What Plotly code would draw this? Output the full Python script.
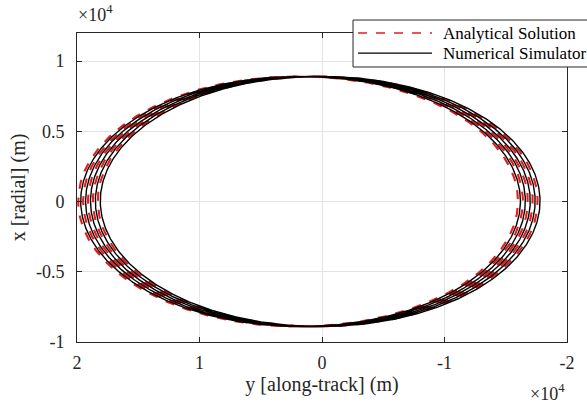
import numpy as np
import plotly.graph_objects as go

# ---- data (units: m) ----
# relative-orbit loops: radial amplitude, along-track amplitude, centre offset and drift per revolution
radial_amp = 8900.0
along_amp = 17850.0
n_revs = 5
numeric_center = 1950.0
analytic_center = 2150.0
drift_per_rev = 400.0

x_tickvals = [20000, 10000, 0, -10000, -20000]
x_ticktext = ["2", "1", "0", "-1", "-2"]
y_tickvals = [-10000, -5000, 0, 5000, 10000]
y_ticktext = ["-1", "-0.5", "0", "0.5", "1"]
series_names = ["Analytical Solution", "Numerical Simulator"]

theta = np.linspace(0, 2 * np.pi * n_revs, 3000)


def orbit(center):
    x = radial_amp * np.cos(theta)
    y = center + along_amp * np.sin(theta) - drift_per_rev * theta / (2 * np.pi)
    return y, x


ya, xa = orbit(analytic_center)
yn, xn = orbit(numeric_center)

RED = "rgb(225,30,30)"
INK = "#262626"
serif = "Liberation Serif, Times New Roman, serif"

fig = go.Figure()
fig.add_trace(go.Scatter(x=ya, y=xa, mode="lines", name=series_names[0], showlegend=False,
                         line=dict(color=RED, width=2.1, dash="dash")))
fig.add_trace(go.Scatter(x=yn, y=xn, mode="lines", name=series_names[1], showlegend=False,
                         line=dict(color="black", width=1.4)))

axis_common = dict(showline=True, linecolor=INK, linewidth=1, mirror="ticks",
                   ticks="inside", ticklen=5, tickcolor=INK,
                   showgrid=True, gridcolor="#e3e3e3", gridwidth=1, zeroline=False,
                   tickfont=dict(family=serif, size=18, color=INK))

# hand-drawn legend box (paper coordinates)
lx0, lx1, ly0, ly1 = 0.5633, 1.06, 0.89, 1.042
shapes = [
    dict(type="rect", xref="paper", yref="paper", x0=lx0, x1=lx1, y0=ly0, y1=ly1,
         fillcolor="white", line=dict(color=INK, width=1), layer="above"),
    dict(type="line", xref="paper", yref="paper", x0=0.5735, x1=0.7245, y0=1.0, y1=1.0,
         line=dict(color=RED, width=1.6, dash="dash"), layer="above"),
    dict(type="line", xref="paper", yref="paper", x0=0.5735, x1=0.7245, y0=0.935, y1=0.935,
         line=dict(color="black", width=1.4), layer="above"),
]

annotations = [
    dict(text=series_names[0], xref="paper", yref="paper", x=0.742, y=1.0,
         xanchor="left", yanchor="middle", showarrow=False,
         font=dict(family=serif, size=17, color="black")),
    dict(text=series_names[1], xref="paper", yref="paper", x=0.742, y=0.935,
         xanchor="left", yanchor="middle", showarrow=False,
         font=dict(family=serif, size=17, color="black")),
    dict(text="×10<sup>4</sup>", xref="paper", yref="paper", x=-0.002, y=1.02,
         xanchor="left", yanchor="bottom", showarrow=False,
         font=dict(family=serif, size=18, color=INK)),
    dict(text="×10<sup>4</sup>", xref="paper", yref="paper", x=1.0, y=-0.12,
         xanchor="right", yanchor="top", showarrow=False,
         font=dict(family=serif, size=18, color=INK)),
]

fig.update_layout(
    width=587, height=406,
    margin=dict(l=77, r=20, t=33, b=64),
    paper_bgcolor="white", plot_bgcolor="white",
    xaxis=dict(range=[20000, -20000], tickvals=x_tickvals, ticktext=x_ticktext,
               ticklabelstandoff=4,
               title=dict(text="y [along-track] (m)", font=dict(family=serif, size=20, color=INK),
                          standoff=4),
               **axis_common),
    yaxis=dict(range=[-10000, 12000], tickvals=y_tickvals, ticktext=y_ticktext,
               ticklabelstandoff=8,
               title=dict(text="x [radial] (m)", font=dict(family=serif, size=20, color=INK),
                          standoff=4),
               **axis_common),
    showlegend=False,
    shapes=shapes,
    annotations=annotations,
)

fig.write_html("out.html")
